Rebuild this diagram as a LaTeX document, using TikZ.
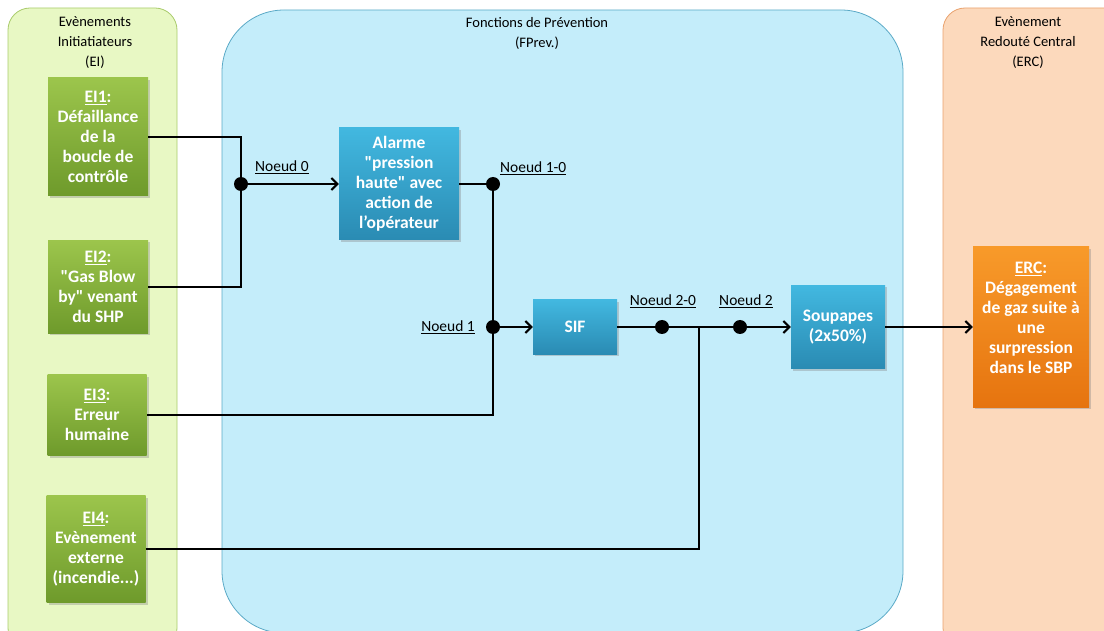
\documentclass[tikz,border=0pt]{standalone}
\usepackage{fontspec}
\setmainfont{Carlito}
\usetikzlibrary{arrows.meta}
\usetikzlibrary{positioning}
\usetikzlibrary{shadows}

\definecolor{eiBack}{HTML}{E8F8C4}
\definecolor{eiEdge}{HTML}{A9CB6B}
\definecolor{fpBack}{HTML}{C4EDFA}
\definecolor{fpEdge}{HTML}{5AA9C6}
\definecolor{ercBack}{HTML}{FCD9BC}
\definecolor{ercEdge}{HTML}{E9A26E}
\definecolor{eiTop}{HTML}{9CC54C}
\definecolor{eiBot}{HTML}{6E9A2B}
\definecolor{fpTop}{HTML}{42B8E0}
\definecolor{fpBot}{HTML}{2A8BB3}
\definecolor{ercTop}{HTML}{F89A2A}
\definecolor{ercBot}{HTML}{E6740F}

\newcommand{\qq}{\textquotedbl}

\begin{document}
\begin{tikzpicture}[x=1pt,y=-1pt]
			\tikzset{panel/.style = {draw, line width=0.8pt}}
			\tikzset{block/.style = {shape=rectangle, align=center, text=white,
					font=\fontsize{17.5}{20}\selectfont\bfseries, inner sep=0pt,
					drop shadow={opacity=0.35, shadow xshift=2pt, shadow yshift=-2pt}}}
			\tikzset{eibox/.style = {block, top color=eiTop, bottom color=eiBot}}
			\tikzset{fpbox/.style = {block, top color=fpTop, bottom color=fpBot}}
			\tikzset{ercbox/.style = {block, top color=ercTop, bottom color=ercBot}}
			\tikzset{title/.style = {align=center, font=\fontsize{14.5}{20}\selectfont}}
			\tikzset{noeud/.style = {font=\fontsize{15.5}{16}\selectfont, inner sep=1pt}}
			\tikzset{dot/.style = {shape=circle, fill=black, minimum size=14pt, inner sep=0pt}}
			\tikzset{wire/.style = {line width=2.2pt}}
			\tikzset{edge/.style = {wire, -{Straight Barb[length=6pt,width=12pt,line width=2pt]}}}
			
			\useasboundingbox (0,0) rectangle (1104,631);
			
			% panels
			\draw[panel, draw=eiEdge, fill=eiBack, rounded corners=22pt] (8,8) rectangle (177,650);
			\draw[panel, draw=fpEdge, fill=fpBack, rounded corners=62pt] (222,10) rectangle (903,633);
			\draw[panel, draw=ercEdge, fill=ercBack, rounded corners=22pt] (943,8) rectangle (1130,650);
			
			\node[title] (tEI) at (95,43) {Evènements\\Initiatiateurs\\(EI)};
			\node[title] (tFP) at (537,33) {Fonctions de Prévention\\(FPrev.)};
			\node[title] (tERC) at (1028,43) {Evènement\\Redouté Central\\(ERC)};
			
			% blocks
			\node[eibox, minimum width=100pt, minimum height=118pt] (ei1) at (98,137)
				{\underline{EI1}:\\Défaillance\\de la\\boucle de\\contrôle};
			\node[eibox, minimum width=100pt, minimum height=93pt] (ei2) at (98,287)
				{\underline{EI2}:\\\qq Gas Blow\\by\qq{} venant\\du SHP};
			\node[eibox, minimum width=99pt, minimum height=81pt] (ei3) at (97,415)
				{\underline{EI3}:\\Erreur\\humaine};
			\node[eibox, minimum width=99pt, minimum height=107pt] (ei4) at (96,549)
				{\underline{EI4}:\\Evènement\\externe\\(incendie...)};
			\node[fpbox, minimum width=120pt, minimum height=112pt] (alarme) at (399,184)
				{Alarme\\\qq pression\\haute\qq{} avec\\action de\\l'opérateur};
			\node[fpbox, minimum width=84pt, minimum height=54pt] (sif) at (575,327) {SIF};
			\node[fpbox, minimum width=94pt, minimum height=83pt] (soup) at (838,327)
				{Soupapes\\(2x50\%)};
			\node[ercbox, minimum width=116pt, minimum height=160pt] (erc) at (1031,327)
				{\underline{ERC}:\\Dégagement\\de gaz suite à\\une\\surpression\\dans le SBP\\[-2pt]\mbox{}};
			
			% junctions
			\coordinate (c0) at (241,184);
			\coordinate (c10) at (493,184);
			\coordinate (c1) at (493,327);
			\coordinate (c20) at (662,327);
			\coordinate (c2) at (740,327);
			\coordinate (c4) at (699,327);
			
			\node[noeud, anchor=south west] (l0) at (254,175) {\underline{Noeud 0}};
			\node[noeud, anchor=south west] (l10) at (499,176) {\underline{Noeud 1-0}};
			\node[noeud, anchor=south east] (l1) at (476,335) {\underline{Noeud 1}};
			\node[noeud, anchor=south] (l20) at (663,309) {\underline{Noeud 2-0}};
			\node[noeud, anchor=south] (l2) at (746,309) {\underline{Noeud 2}};
			
			%edges
			\draw[wire] (ei1.east) -| (c0) |- (ei2.east);
			\draw[edge] (c0) -- (alarme.west);
			\draw[wire] (alarme.east) -- (c10) -- (c1) |- (ei3.east);
			\draw[edge] (c1) -- (sif.west);
			\draw[wire] (sif.east) -- (c4);
			\draw[wire] (ei4.east) -| (c4);
			\draw[edge] (c4) -- (soup.west);
			\draw[edge] (soup.east) -- (erc.west);
			
			\node[dot] (n0) at (c0) {};
			\node[dot] (n10) at (c10) {};
			\node[dot] (n1) at (c1) {};
			\node[dot] (n20) at (c20) {};
			\node[dot] (n2) at (c2) {};
			
\end{tikzpicture}
\end{document}
